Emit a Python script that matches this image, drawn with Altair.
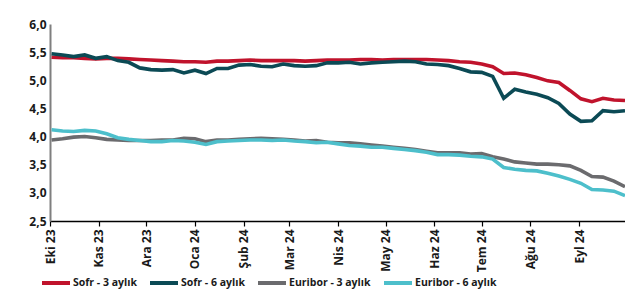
import altair as alt
import pandas as pd

series_names = ["Sofr - 3 aylık", "Sofr - 6 aylık", "Euribor - 3 aylık", "Euribor - 6 aylık"]
series_colors = ["#C0132C", "#0B4A55", "#6B6B6E", "#4DBFCB"]

dates = pd.date_range("2023-10-02", periods=53, freq="7D")

sofr_3m = [5.41, 5.40, 5.40, 5.39, 5.38, 5.39, 5.39, 5.38, 5.37, 5.36,
           5.35, 5.34, 5.33, 5.33, 5.32, 5.34, 5.34, 5.35, 5.36, 5.35,
           5.35, 5.35, 5.35, 5.34, 5.35, 5.36, 5.36, 5.36, 5.37, 5.37,
           5.36, 5.37, 5.37, 5.37, 5.37, 5.36, 5.35, 5.33, 5.32, 5.29,
           5.24, 5.12, 5.13, 5.10, 5.05, 4.99, 4.96, 4.82, 4.67, 4.62,
           4.68, 4.65, 4.64]
sofr_6m = [5.47, 5.45, 5.42, 5.45, 5.39, 5.42, 5.35, 5.32, 5.22, 5.19,
           5.18, 5.19, 5.13, 5.18, 5.12, 5.21, 5.21, 5.27, 5.28, 5.25,
           5.24, 5.29, 5.26, 5.25, 5.26, 5.31, 5.31, 5.32, 5.29, 5.31,
           5.32, 5.33, 5.34, 5.33, 5.29, 5.28, 5.26, 5.21, 5.15, 5.14,
           5.07, 4.68, 4.84, 4.79, 4.75, 4.69, 4.59, 4.40, 4.27, 4.28,
           4.46, 4.44, 4.46]
euribor_3m = [3.94, 3.96, 3.99, 4.00, 3.98, 3.95, 3.94, 3.93, 3.93, 3.93,
              3.94, 3.94, 3.97, 3.96, 3.91, 3.94, 3.94, 3.95, 3.96, 3.97,
              3.96, 3.95, 3.94, 3.92, 3.93, 3.90, 3.89, 3.89, 3.87, 3.85,
              3.83, 3.81, 3.79, 3.77, 3.74, 3.71, 3.71, 3.71, 3.69, 3.70,
              3.64, 3.60, 3.55, 3.53, 3.51, 3.51, 3.50, 3.48, 3.40, 3.29,
              3.28, 3.21, 3.11]
euribor_6m = [4.12, 4.10, 4.09, 4.11, 4.10, 4.05, 3.98, 3.95, 3.93, 3.91,
              3.91, 3.93, 3.92, 3.90, 3.86, 3.91, 3.92, 3.93, 3.94, 3.94,
              3.93, 3.94, 3.92, 3.91, 3.89, 3.90, 3.87, 3.84, 3.83, 3.81,
              3.81, 3.79, 3.77, 3.75, 3.72, 3.68, 3.68, 3.67, 3.65, 3.64,
              3.60, 3.45, 3.42, 3.40, 3.39, 3.35, 3.30, 3.24, 3.17, 3.06,
              3.05, 3.03, 2.95]

month_names = ["Oca", "Şub", "Mar", "Nis", "May", "Haz", "Tem", "Ağu", "Eyl", "Eki", "Kas", "Ara"]

rows = []
for name, vals in zip(series_names, [sofr_3m, sofr_6m, euribor_3m, euribor_6m]):
    for d, v in zip(dates, vals):
        rows.append({"date": d.strftime("%Y-%m-%d"), "value": v, "series": name})
df = pd.DataFrame(rows)

tick_dates = [alt.DateTime(year=2023 + (9 + i) // 12, month=(9 + i) % 12 + 1, date=1, utc=True) for i in range(12)]
label_expr = ("['" + "','".join(month_names) + "'][utcmonth(datum.value)] + ' ' + utcFormat(datum.value, '%y')")

FONT = "Open Sans"

chart = alt.Chart(df).mark_line(strokeWidth=3.6).encode(
    x=alt.X("date:T",
            scale=alt.Scale(type="utc",
                            domain=[alt.DateTime(year=2023, month=10, date=1, utc=True),
                                    alt.DateTime(year=2024, month=9, date=30, utc=True)]),
            axis=alt.Axis(title=None, values=tick_dates, labelExpr=label_expr, labelAngle=-90,
                          labelFont=FONT, labelFontWeight="bold", labelFontSize=12, labelColor="#1a1a1a",
                          domainColor="#000000", domainWidth=1.5, tickColor="#000000", tickSize=5,
                          tickWidth=1.2, labelPadding=3, grid=False)),
    y=alt.Y("value:Q",
            scale=alt.Scale(domain=[2.5, 6.0], nice=False, zero=False),
            axis=alt.Axis(title=None, values=[2.5, 3.0, 3.5, 4.0, 4.5, 5.0, 5.5, 6.0],
                          labelExpr="replace(format(datum.value, '.1f'), '.', ',')",
                          labelFont=FONT, labelFontWeight="bold", labelFontSize=12, labelColor="#1a1a1a",
                          ticks=False, tickSize=0, domainColor="#7f7f7f", domainWidth=2,
                          labelPadding=4, grid=False)),
    color=alt.Color("series:N",
                    scale=alt.Scale(domain=series_names, range=series_colors),
                    legend=alt.Legend(title=None, orient="none", legendX=-10, legendY=243,
                                      direction="horizontal", symbolType="stroke", symbolSize=784,
                                      symbolStrokeWidth=4, labelFont=FONT, labelFontWeight="bold",
                                      labelFontSize=10.5, labelColor="#1a1a1a", labelOffset=1,
                                      columnPadding=5)),
).properties(
    width=575, height=197,
    autosize=alt.AutoSizeParams(type="none"),
    padding={"left": 42, "top": 16, "right": 0, "bottom": 72},
).configure_view(stroke=None)

chart.save("out.html", embed_options={"renderer": "svg", "actions": False})
